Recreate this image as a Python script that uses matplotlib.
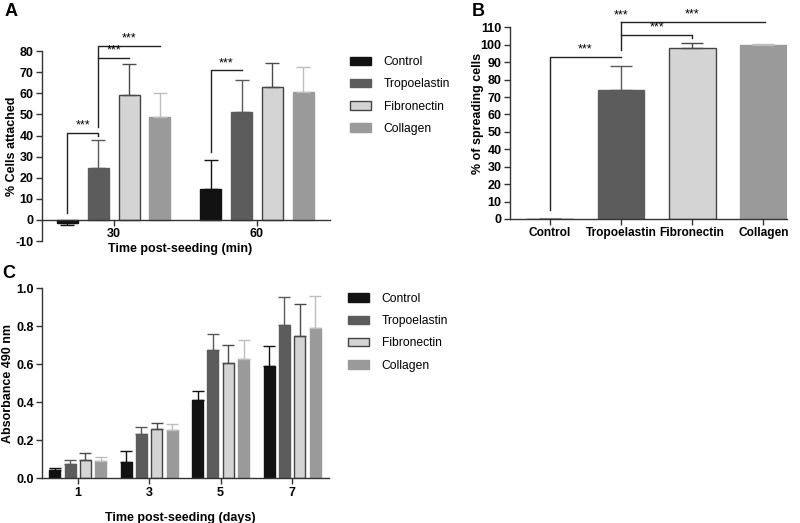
import matplotlib
matplotlib.use("Agg")
import matplotlib.pyplot as plt
import numpy as np
from matplotlib.patches import Patch

plt.rcParams['font.family'] = ['Liberation Sans', 'DejaVu Sans']
plt.rcParams['axes.unicode_minus'] = False

# series shared by all panels
series = ['Control', 'Tropoelastin', 'Fibronectin', 'Collagen']
fills = ['#121212', '#5c5c5c', '#d4d4d4', '#9a9a9a']
edges = ['#121212', '#5c5c5c', '#444444', '#9a9a9a']
err_clr = ['#111111', '#5a5a5a', '#4a4a4a', '#bdbdbd']

# panel A: % cells attached
groups_a = ['30', '60']
mean_a = [[-1.5, 14.5], [24.5, 51.0], [59.0, 63.0], [49.0, 60.5]]
err_a = [[1.0, 14.0], [13.5, 15.5], [15.0, 11.5], [11.0, 12.0]]

# panel B: % of spreading cells
mean_b = [0, 74.0, 98.0, 100.0]
err_b = [0, 14.0, 3.0, 0.5]

# panel C: absorbance 490 nm
groups_c = ['1', '3', '5', '7']
mean_c = [[0.042, 0.084, 0.41, 0.591],
          [0.074, 0.233, 0.675, 0.807],
          [0.095, 0.258, 0.605, 0.749],
          [0.089, 0.254, 0.626, 0.789]]
err_c = [[0.012, 0.060, 0.051, 0.107],
         [0.021, 0.037, 0.083, 0.149],
         [0.040, 0.035, 0.095, 0.167],
         [0.025, 0.034, 0.100, 0.171]]

SPINE = '#333333'
step = 0.215
offsets = (np.arange(4) - 1.5) * step


def style(ax):
    for s in ['top', 'right']:
        ax.spines[s].set_visible(False)
    for s in ['left', 'bottom']:
        ax.spines[s].set_color(SPINE)
        ax.spines[s].set_linewidth(1)
    ax.tick_params(direction='out', length=4, width=1, color=SPINE,
                   labelsize=9, pad=2)
    for lab in ax.get_xticklabels() + ax.get_yticklabels():
        lab.set_fontweight('bold')


def bracket(ax, xs, ys, star_x, star_y):
    ax.plot(xs, ys, color='#222222', lw=1, clip_on=False)
    ax.text(star_x, star_y, '***', ha='center', va='bottom', fontsize=9,
            clip_on=False)


def grouped(ax, means, errs, width, capsize):
    for i in range(4):
        x = np.arange(len(means[i])) + offsets[i]
        m = np.array(means[i])
        e = np.array(errs[i])
        lower = np.where(m < 0, e, 0)
        upper = np.where(m < 0, 0, e)
        ax.bar(x, m, width, yerr=[lower, upper], color=fills[i],
               edgecolor=edges[i], linewidth=1, label=series[i],
               error_kw=dict(ecolor=err_clr[i], elinewidth=1, capsize=capsize,
                             capthick=1), zorder=2)


def legend(ax, x, y):
    handles = [Patch(facecolor=fills[i], edgecolor=edges[i], label=series[i])
               for i in range(4)]
    ax.legend(handles=handles, loc='upper left', bbox_to_anchor=(x, y),
              bbox_transform=ax.figure.transFigure, frameon=False,
              fontsize=8.7, handlelength=1.7, handleheight=0.7,
              handletextpad=1.1, labelspacing=0.85, borderpad=0,
              borderaxespad=0)


fig = plt.figure(figsize=(8, 5.23), dpi=100)

# ---- A ----
axA = fig.add_axes([0.0525, 0.539, 0.36, 0.3633])
grouped(axA, mean_a, err_a, 0.147, 5)
axA.set_xlim(-0.5, 1.51)
axA.set_ylim(-10, 80)
axA.set_yticks(np.arange(-10, 81, 10))
axA.set_xticks(range(len(groups_a)), labels=groups_a)
axA.spines['bottom'].set_position(('data', 0))
style(axA)
axA.set_ylabel('% Cells attached', fontsize=9, fontweight='bold')
axA.yaxis.set_label_coords(-0.085, 0.5)
axA.set_xlabel('Time post-seeding (min)', fontsize=9, fontweight='bold')
axA.xaxis.set_label_coords(0.48, -0.01)
c30, t30, f30, k30 = offsets
bracket(axA, [c30, c30, t30, t30], [3.2, 41.4, 41.4, 40.0], (c30 + t30) / 2, 41.8)
bracket(axA, [t30, t30, k30], [44.2, 82.6, 82.6], (t30 + k30) / 2, 83.0)
bracket(axA, [t30, f30], [76.9, 76.9], (t30 + f30) / 2, 77.3)
bracket(axA, [1 + c30, 1 + c30, 1 + t30], [32.4, 71.0, 71.0], 1 + (c30 + t30) / 2, 71.4)
legend(axA, 0.4375, 0.893)

# ---- B ----
axB = fig.add_axes([0.6375, 0.5813, 0.346, 0.3665])
xb = np.arange(4)
for i in range(4):
    axB.bar(xb[i], mean_b[i], 0.66, yerr=[[0], [err_b[i]]], color=fills[i],
            edgecolor=edges[i], linewidth=1,
            error_kw=dict(ecolor=err_clr[i], elinewidth=1, capsize=8,
                          capthick=1), zorder=2)
axB.set_xlim(-0.56, 3.33)
axB.set_ylim(0, 110)
axB.set_yticks(np.arange(0, 111, 10))
axB.set_xticks(xb, labels=series)
style(axB)
for lab in axB.get_xticklabels():
    lab.set_fontsize(8.6)
axB.set_ylabel('% of spreading cells', fontsize=9, fontweight='bold')
axB.yaxis.set_label_coords(-0.095, 0.55)
bracket(axB, [0, 0, 1], [5.2, 92.8, 92.8], 0.5, 93.8)
bracket(axB, [1, 1], [97.0, 113.2], 1, 113.2)
bracket(axB, [1, 2, 2], [105.4, 105.4, 104.0], 1.5, 106.3)
bracket(axB, [1, 3.03], [113.2, 113.2], 2.0, 114.1)

# ---- C ----
axC = fig.add_axes([0.0525, 0.0855, 0.359, 0.3633])
grouped(axC, mean_c, err_c, 0.154, 4)
axC.set_xlim(-0.5, 3.52)
axC.set_ylim(0, 1.0)
axC.set_yticks(np.arange(0, 1.01, 0.2))
axC.set_xticks(range(len(groups_c)), labels=groups_c)
style(axC)
axC.set_ylabel('Absorbance 490 nm', fontsize=9, fontweight='bold')
axC.yaxis.set_label_coords(-0.098, 0.5)
axC.set_xlabel('Time post-seeding (days)', fontsize=9, fontweight='bold')
axC.xaxis.set_label_coords(0.48, -0.175)
legend(axC, 0.435, 0.44)

# panel letters
fig.text(0.006, 0.995, 'A', fontsize=13, fontweight='bold', va='top')
fig.text(0.59, 0.995, 'B', fontsize=13, fontweight='bold', va='top')
fig.text(0.003, 0.494, 'C', fontsize=13, fontweight='bold', va='top')

fig.savefig('out.png', dpi=100)
